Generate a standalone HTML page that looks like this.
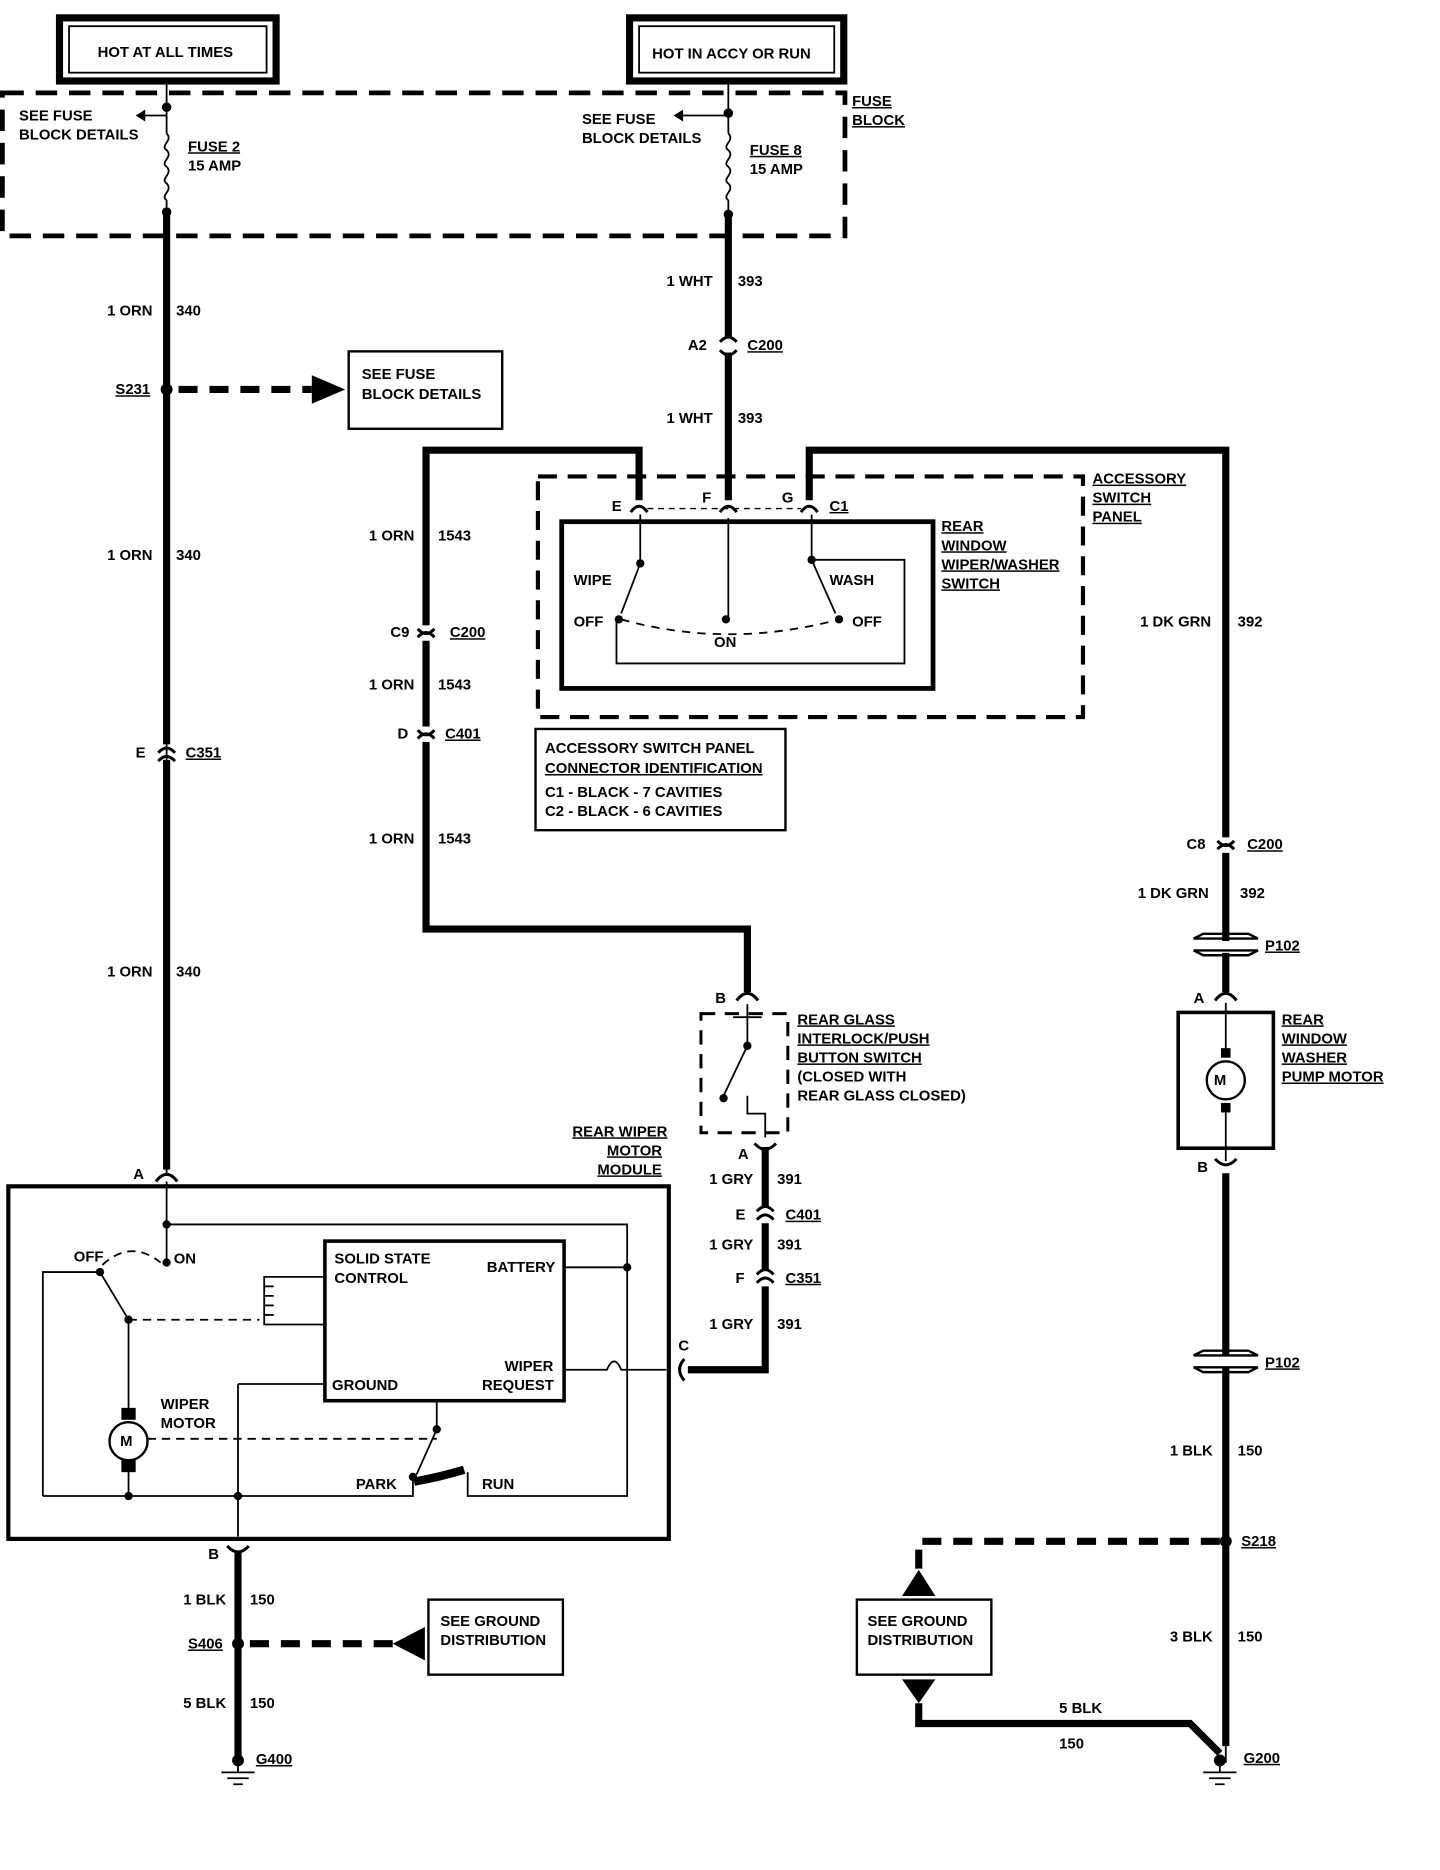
<!DOCTYPE html>
<html><head><meta charset="utf-8"><style>
html,body{margin:0;padding:0;background:#fff}
svg{display:block}
text{font-family:"Liberation Sans",sans-serif;font-weight:bold;font-size:12.5px;fill:#000}
</style></head><body>
<svg width="1440" height="1870" viewBox="0 0 1210 1570" preserveAspectRatio="none" xmlns="http://www.w3.org/2000/svg">
<rect width="1210" height="1570" fill="#fff"/>
<g fill="none" stroke="#000">
<!-- top boxes -->
<rect x="50" y="15" width="182" height="53" stroke-width="6"/>
<rect x="58" y="22" width="166" height="39" stroke-width="1.5"/>
<rect x="529" y="15" width="180" height="53" stroke-width="6"/>
<rect x="537" y="22" width="164" height="39" stroke-width="1.5"/>
<!-- fuse block -->
<rect x="2" y="78" width="708" height="120" stroke-width="4" stroke-dasharray="18,10"/>
<path d="M140 68V112 M140 168V985" stroke-width="1.5"/>
<path d="M140 112c6 6 -6 10 0 14c6 6 -6 10 0 14c6 6 -6 10 0 14c6 6 -6 10 0 14" stroke-width="1.5"/>
<path d="M140 97H120" stroke-width="1.5"/>
<path d="M612 68V112 M612 168V180" stroke-width="1.5"/>
<path d="M612 112c6 6 -6 10 0 14c6 6 -6 10 0 14c6 6 -6 10 0 14c6 6 -6 10 0 14" stroke-width="1.5"/>
<path d="M612 97H572" stroke-width="1.5"/>
<!-- main wires thick -->
<path d="M140 180V625 M140 638V982" stroke-width="6"/>
<path d="M612 180V283 M612 296V420" stroke-width="6"/>
<path d="M537 420V378H358V525 M358 538V610 M358 623V780H628V833" stroke-width="6"/>
<path d="M680 420V378H1030V703 M1030 716V790 M1030 800V833" stroke-width="6"/>
<path d="M1030 985V1138 M1030 1148V1466" stroke-width="6"/>
<path d="M643 963V1014 M643 1027V1067 M643 1080V1150H578" stroke-width="6"/>
<path d="M200 1303V1478" stroke-width="6"/>
<path d="M772 1430V1447H1000L1025 1472" stroke-width="6"/>
<!-- dashed heavy -->
<path d="M150 327H262" stroke-width="6" stroke-dasharray="16,10"/>
<path d="M210 1380H330" stroke-width="6" stroke-dasharray="16,10"/>
<path d="M1025 1294H772V1318" stroke-width="6" stroke-dasharray="16,10"/>
<!-- connector symbols -->
<g stroke-width="2.5">
<path d="M133 632q7-8 14 0 M133 639q7-8 14 0"/>
<path d="M605 287q7 -8 14 0 M605 294q7 8 14 0"/>
<path d="M351 528q7 8 14 0 M351 535q7-8 14 0"/>
<path d="M351 613q7 8 14 0 M351 620q7-8 14 0"/>
<path d="M1023 706q7 8 14 0 M1023 713q7-8 14 0"/>
<path d="M636 1017q7-8 14 0 M636 1024q7-8 14 0"/>
<path d="M636 1070q7-8 14 0 M636 1077q7-8 14 0"/>
<path d="M530 430q7-10 14 0 M605 430q7-10 14 0 M673 430q7-10 14 0"/>
<path d="M131 992q9-12 18 0"/>
<path d="M619 840q9 -12 18 0"/>
<path d="M1021 840q9-12 18 0 M1021 973q9 10 18 0"/>
<path d="M634 960q9 10 18 0"/>
<path d="M191 1298q9 10 18 0"/>
<path d="M575 1141q-8 9 0 18"/>
</g>
<path d="M1003 788h54l-8 -4h-38z M1003 798h54l-8 4h-38z" stroke-width="2"/>
<path d="M1003 1138h54l-8 -4h-38z M1003 1148h54l-8 4h-38z" stroke-width="2"/>
<!-- see fuse block box -->
<rect x="293" y="295" width="129" height="65" stroke-width="2"/>
<rect x="360" y="1343" width="113" height="63" stroke-width="2"/>
<rect x="720" y="1343" width="113" height="63" stroke-width="2"/>
<!-- accessory switch panel -->
<rect x="452" y="400" width="458" height="202" stroke-width="3.5" stroke-dasharray="16,9"/>
<path d="M544 427H673" stroke-width="1.2" stroke-dasharray="5,4"/>
<rect x="472" y="438" width="312" height="140" stroke-width="4"/>
<path d="M612 435V520 M538 432V473L522 515 M682 432V470L702 515 M682 470H760V557H518V520" stroke-width="1.5"/>
<path d="M522 520Q612 545 705 520" stroke-width="1.5" stroke-dasharray="7,6"/>
<rect x="450" y="612" width="210" height="85" stroke-width="2"/>
<!-- interlock switch -->
<rect x="589" y="851" width="73" height="100" stroke-width="2.5" stroke-dasharray="12,8"/>
<path d="M628 843V878L608 920 M616 854H640 M628 920V935H643V955" stroke-width="1.5"/>
<!-- pump motor -->
<rect x="990" y="850" width="80" height="114" stroke-width="3"/>
<path d="M1030 842V885 M1030 930V975" stroke-width="1.5"/>
<circle cx="1030" cy="907" r="16" stroke-width="2"/>
<!-- module -->
<rect x="7" y="996" width="555" height="296" stroke-width="3.5"/>
<g stroke-width="1.5">
<path d="M140 992V1060 M140 1028H527V1256H393V1236 M474 1064H527 M474 1150H510q6-14 12 0H560 M36 1256H347V1240"/>
<path d="M140 1060 M82 1068H36V1256 M84 1068L108 1108V1186 M108 1225V1256 M200 1162H273 M200 1162V1290"/>
<path d="M273 1072H222V1112H273 M222 1080h8 M222 1088h8 M222 1096h8 M222 1104h8"/>
<path d="M367 1176V1200L350 1238"/>
<rect x="273" y="1042" width="201" height="134" stroke-width="3"/>
<circle cx="108" cy="1210" r="16" stroke-width="2"/>
</g>
<path d="M348 1244Q370 1240 390 1234" stroke-width="7"/>
<path d="M86 1062Q110 1040 135 1060 M108 1108H218 M124 1208H367" stroke-width="1.5" stroke-dasharray="7,5"/>
<path d="M1030 1466L1030 1480" stroke-width="1.5"/>
<path d="M200 1478V1488 M186 1488h28 M191 1493h18 M196 1498h8 M1025 1480v8 M1011 1488h28 M1016 1493h18 M1021 1498h8" stroke-width="1.5"/>
<path d="M540 428 M0 0" />
</g>
<g fill="#000">
<circle cx="140" cy="90" r="4"/><circle cx="140" cy="178" r="4"/>
<circle cx="612" cy="95" r="4"/><circle cx="612" cy="180" r="4"/>
<circle cx="140" cy="327" r="5"/><circle cx="200" cy="1380" r="5"/><circle cx="1030" cy="1294" r="5"/>
<circle cx="1025" cy="1478" r="5"/><circle cx="200" cy="1478" r="5"/>
<circle cx="538" cy="473" r="3.5"/><circle cx="520" cy="520" r="3.5"/><circle cx="610" cy="520" r="3.5"/><circle cx="682" cy="470" r="3.5"/><circle cx="705" cy="520" r="3.5"/>
<circle cx="628" cy="878" r="3.5"/><circle cx="608" cy="922" r="3.5"/>
<circle cx="140" cy="1028" r="3.5"/><circle cx="140" cy="1060" r="3.5"/><circle cx="84" cy="1068" r="3.5"/><circle cx="108" cy="1108" r="3.5"/>
<circle cx="527" cy="1064" r="3.5"/><circle cx="108" cy="1256" r="3.5"/><circle cx="200" cy="1256" r="3.5"/>
<circle cx="367" cy="1200" r="3.5"/><circle cx="347" cy="1240" r="3.5"/>
<rect x="102" y="1182" width="12" height="10"/><rect x="102" y="1226" width="12" height="10"/>
<rect x="1026" y="880" width="8" height="8"/><rect x="1026" y="926" width="8" height="8"/>
<path d="M262 315L290 327L262 339Z"/>
<path d="M357 1366L330 1380L357 1394Z"/>
<path d="M758 1340L772 1318L786 1340Z"/>
<path d="M758 1410L772 1430L786 1410Z"/>
<path d="M566 97l8-5v10z M114 97l8-5v10z"/>
</g>
<g>
<text x="82" y="48">HOT AT ALL TIMES</text>
<text x="548" y="49">HOT IN ACCY OR RUN</text>
<text x="16" y="101">SEE FUSE</text><text x="16" y="117">BLOCK DETAILS</text>
<text x="158" y="127" text-decoration="underline">FUSE 2</text><text x="158" y="143">15 AMP</text>
<text x="489" y="104">SEE FUSE</text><text x="489" y="120">BLOCK DETAILS</text>
<text x="630" y="130" text-decoration="underline">FUSE 8</text><text x="630" y="146">15 AMP</text>
<text x="716" y="89" text-decoration="underline">FUSE</text><text x="716" y="105" text-decoration="underline">BLOCK</text>
<text x="90" y="265">1 ORN</text><text x="148" y="265">340</text>
<text x="90" y="470">1 ORN</text><text x="148" y="470">340</text>
<text x="90" y="820">1 ORN</text><text x="148" y="820">340</text>
<text x="97" y="331" text-decoration="underline">S231</text>
<text x="304" y="318">SEE FUSE</text><text x="304" y="335">BLOCK DETAILS</text>
<text x="114" y="636">E</text><text x="156" y="636" text-decoration="underline">C351</text>
<text x="560" y="240">1 WHT</text><text x="620" y="240">393</text>
<text x="560" y="355">1 WHT</text><text x="620" y="355">393</text>
<text x="578" y="294">A2</text><text x="628" y="294" text-decoration="underline">C200</text>
<text x="310" y="454">1 ORN</text><text x="368" y="454">1543</text>
<text x="310" y="579">1 ORN</text><text x="368" y="579">1543</text>
<text x="310" y="708">1 ORN</text><text x="368" y="708">1543</text>
<text x="328" y="535">C9</text><text x="378" y="535" text-decoration="underline">C200</text>
<text x="334" y="620">D</text><text x="374" y="620" text-decoration="underline">C401</text>
<text x="514" y="429">E</text><text x="590" y="422">F</text><text x="657" y="422">G</text><text x="697" y="429" text-decoration="underline">C1</text>
<text x="918" y="406" text-decoration="underline">ACCESSORY</text><text x="918" y="422" text-decoration="underline">SWITCH</text><text x="918" y="438" text-decoration="underline">PANEL</text>
<text x="791" y="446" text-decoration="underline">REAR</text><text x="791" y="462" text-decoration="underline">WINDOW</text><text x="791" y="478" text-decoration="underline">WIPER/WASHER</text><text x="791" y="494" text-decoration="underline">SWITCH</text>
<text x="482" y="491">WIPE</text><text x="482" y="526">OFF</text><text x="600" y="543">ON</text><text x="697" y="491">WASH</text><text x="716" y="526">OFF</text>
<text x="458" y="632">ACCESSORY SWITCH PANEL</text>
<text x="458" y="649" text-decoration="underline">CONNECTOR IDENTIFICATION</text>
<text x="458" y="669">C1   -  BLACK    - 7 CAVITIES</text>
<text x="458" y="685">C2   -  BLACK    - 6 CAVITIES</text>
<text x="958" y="526">1 DK GRN</text><text x="1040" y="526">392</text>
<text x="956" y="754">1 DK GRN</text><text x="1042" y="754">392</text>
<text x="997" y="713">C8</text><text x="1048" y="713" text-decoration="underline">C200</text>
<text x="1063" y="798" text-decoration="underline">P102</text>
<text x="1063" y="1148" text-decoration="underline">P102</text>
<text x="1003" y="842">A</text><text x="1006" y="984">B</text>
<text x="1077" y="860" text-decoration="underline">REAR</text><text x="1077" y="876" text-decoration="underline">WINDOW</text><text x="1077" y="892" text-decoration="underline">WASHER</text><text x="1077" y="908" text-decoration="underline">PUMP MOTOR</text>
<text x="601" y="842">B</text>
<text x="670" y="860" text-decoration="underline">REAR GLASS</text><text x="670" y="876" text-decoration="underline">INTERLOCK/PUSH</text><text x="670" y="892" text-decoration="underline">BUTTON SWITCH</text><text x="670" y="908">(CLOSED WITH</text><text x="670" y="924">REAR GLASS CLOSED)</text>
<text x="620" y="973">A</text>
<text x="596" y="994">1 GRY</text><text x="653" y="994">391</text>
<text x="596" y="1049">1 GRY</text><text x="653" y="1049">391</text>
<text x="596" y="1116">1 GRY</text><text x="653" y="1116">391</text>
<text x="618" y="1024">E</text><text x="660" y="1024" text-decoration="underline">C401</text>
<text x="618" y="1077">F</text><text x="660" y="1077" text-decoration="underline">C351</text>
<text x="570" y="1134">C</text>
<text x="481" y="954" text-decoration="underline">REAR WIPER</text><text x="510" y="970" text-decoration="underline">MOTOR</text><text x="502" y="986" text-decoration="underline">MODULE</text>
<text x="112" y="990">A</text>
<text x="62" y="1059">OFF</text><text x="146" y="1061">ON</text>
<text x="281" y="1061">SOLID STATE</text><text x="281" y="1077">CONTROL</text>
<text x="409" y="1068">BATTERY</text>
<text x="424" y="1151">WIPER</text><text x="405" y="1167">REQUEST</text>
<text x="279" y="1167">GROUND</text>
<text x="135" y="1183">WIPER</text><text x="135" y="1199">MOTOR</text>
<text x="101" y="1214" font-size="14">M</text>
<text x="1020" y="911" font-size="14">M</text>
<text x="299" y="1250">PARK</text><text x="405" y="1250">RUN</text>
<text x="175" y="1309">B</text>
<text x="154" y="1347">1 BLK</text><text x="210" y="1347">150</text>
<text x="154" y="1434">5 BLK</text><text x="210" y="1434">150</text>
<text x="158" y="1384" text-decoration="underline">S406</text>
<text x="215" y="1481" text-decoration="underline">G400</text>
<text x="370" y="1365">SEE GROUND</text><text x="370" y="1381">DISTRIBUTION</text>
<text x="729" y="1365">SEE GROUND</text><text x="729" y="1381">DISTRIBUTION</text>
<text x="983" y="1222">1 BLK</text><text x="1040" y="1222">150</text>
<text x="983" y="1378">3 BLK</text><text x="1040" y="1378">150</text>
<text x="1043" y="1298" text-decoration="underline">S218</text>
<text x="890" y="1438">5 BLK</text><text x="890" y="1468">150</text>
<text x="1045" y="1480" text-decoration="underline">G200</text>
</g>
</svg>
</body></html>
